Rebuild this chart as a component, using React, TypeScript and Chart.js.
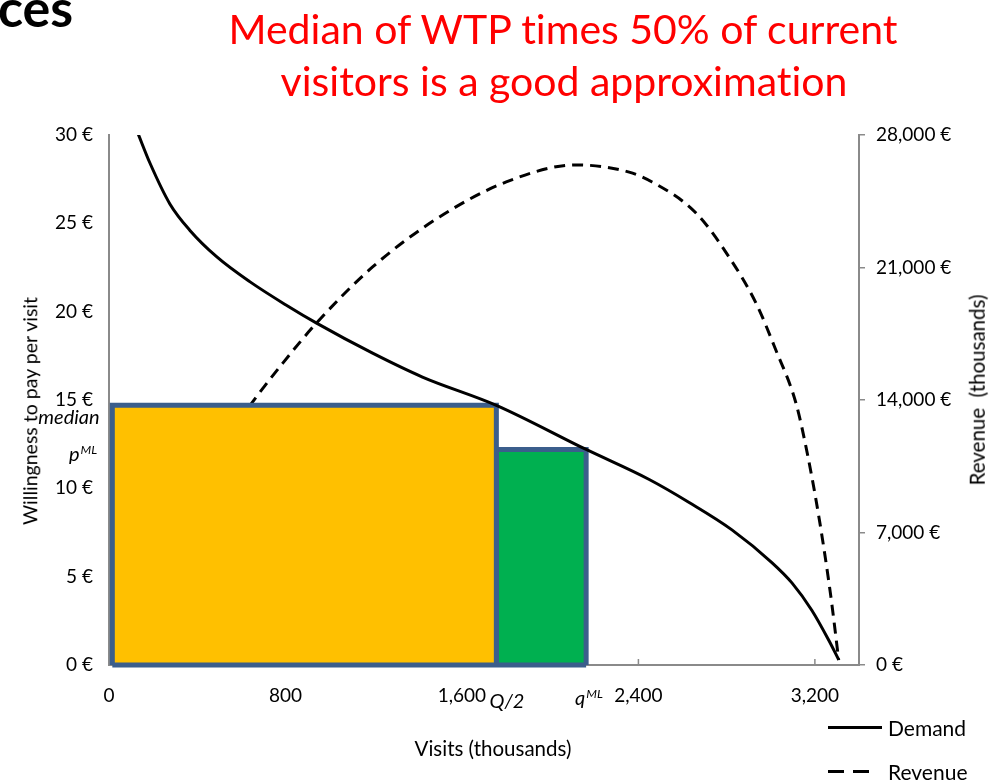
import React, { useEffect, useRef } from 'react';
import { Chart, registerables } from 'chart.js';

Chart.register(...registerables);

// ---- data ----
const demandX = [131, 186, 276, 367, 489, 638, 806, 941, 1195, 1421, 1756, 2163, 2449, 2630, 2824, 3005, 3096, 3186, 3263, 3308];
const demandY = [30.1, 28.4, 26.1, 24.6, 23.1, 21.7, 20.35, 19.35, 17.65, 16.3, 14.7, 12.2, 10.5, 9.2, 7.65, 5.8, 4.65, 3.1, 1.4, 0.3];

const revenueX = [131, 276, 489, 647, 788, 941, 1195, 1498, 1801, 2118, 2358, 2462, 2661, 2811, 2933, 3023, 3114, 3168, 3222, 3272, 3308];
const revenueY = [3900, 7200, 11300, 13840, 15950, 18070, 21030, 23670, 25520, 26420, 26040, 25520, 23880, 21550, 19120, 16640, 13840, 11040, 7550, 3650, 260];

// rectangles: edges along visits axis, heights in €/visit
const boxEdges = [15, 1756, 2163];
const boxHeights = [14.7, 12.2];
const boxColors = ['#FFC000', '#00B050'];

const xTicks = [0, 800, 1600, 2400, 3200];
const leftTicks = [0, 5, 10, 15, 20, 25, 30];
const rightTicks = [0, 7000, 14000, 21000, 28000];

const FONT = 'Lato, "Open Sans", sans-serif';
const AXIS_GRAY = '#8a8a8a';
const BOX_BORDER = '#3B5E8C';

const innerXTicks = {
  id: 'innerXTicks',
  beforeDatasetsDraw(chart: any) {
    const { ctx, chartArea, scales } = chart;
    ctx.save();
    ctx.strokeStyle = AXIS_GRAY;
    ctx.lineWidth = 1.5;
    for (const v of xTicks) {
      if (v === 0) continue;
      const px = scales.x.getPixelForValue(v);
      ctx.beginPath();
      ctx.moveTo(px, chartArea.bottom);
      ctx.lineTo(px, chartArea.bottom - 6);
      ctx.stroke();
    }
    ctx.restore();
  },
};

function ChartCanvas() {
  const ref = useRef<HTMLCanvasElement | null>(null);
  useEffect(() => {
    if (!ref.current) return;
    const boxSets = boxHeights.map((h, i) => ({
      label: 'box' + i,
      data: [
        { x: boxEdges[i], y: 0 },
        { x: boxEdges[i], y: h },
        { x: boxEdges[i + 1], y: h },
        { x: boxEdges[i + 1], y: 0 },
      ],
      backgroundColor: boxColors[i],
      borderColor: BOX_BORDER,
      borderWidth: 5,
      borderJoinStyle: 'miter' as const,
      fill: 'origin',
      pointRadius: 0,
      tension: 0,
      yAxisID: 'y',
      order: 1,
      clip: false as any,
    }));
    const chart = new Chart(ref.current, {
      type: 'line',
      data: {
        datasets: [
          {
            label: 'Demand',
            data: demandX.map((x, i) => ({ x, y: demandY[i] })),
            borderColor: '#000',
            borderWidth: 3,
            pointRadius: 0,
            fill: false,
            cubicInterpolationMode: 'monotone',
            yAxisID: 'y',
            order: 0,
          },
          {
            label: 'bottom',
            data: [
              { x: boxEdges[0], y: 0 },
              { x: boxEdges[boxEdges.length - 1], y: 0 },
            ],
            borderColor: BOX_BORDER,
            borderWidth: 5,
            pointRadius: 0,
            fill: false,
            yAxisID: 'y',
            order: 1,
            clip: false as any,
          },
          ...boxSets,
          {
            label: 'Revenue',
            data: revenueX.map((x, i) => ({ x, y: revenueY[i] })),
            borderColor: '#000',
            borderWidth: 3,
            borderDash: [11, 7],
            pointRadius: 0,
            fill: false,
            cubicInterpolationMode: 'monotone',
            yAxisID: 'y2',
            order: 2,
          },
        ] as any,
      },
      options: {
        responsive: false,
        animation: false,
        layout: { padding: { top: 135, left: 0, right: 0, bottom: 0 } },
        plugins: { legend: { display: false }, tooltip: { enabled: false } },
        scales: {
          x: {
            type: 'linear',
            min: 0,
            max: 3400,
            afterBuildTicks: (s: any) => {
              s.ticks = xTicks.map((v) => ({ value: v }));
            },
            afterFit: (s: any) => {
              s.height = 115;
            },
            grid: { display: false, drawTicks: false },
            border: { display: true, color: AXIS_GRAY, width: 2 },
            ticks: {
              color: '#000',
              font: { family: FONT, size: 19 },
              padding: 19,
              maxRotation: 0,
              callback: (v: any) => Number(v).toLocaleString('en-US'),
            },
          },
          y: {
            type: 'linear',
            position: 'left',
            min: 0,
            max: 30,
            afterBuildTicks: (s: any) => {
              s.ticks = leftTicks.map((v) => ({ value: v }));
            },
            afterFit: (s: any) => {
              s.width = 109;
            },
            grid: { display: false, drawTicks: false },
            border: { display: true, color: AXIS_GRAY, width: 2 },
            ticks: {
              color: '#000',
              font: { family: FONT, size: 19 },
              padding: 16,
              callback: (v: any) => v + ' €',
            },
          },
          y2: {
            type: 'linear',
            position: 'right',
            min: 0,
            max: 28000,
            afterBuildTicks: (s: any) => {
              s.ticks = rightTicks.map((v) => ({ value: v }));
            },
            afterFit: (s: any) => {
              s.width = 135;
            },
            grid: { display: true, drawOnChartArea: false, drawTicks: true, tickLength: 6, color: AXIS_GRAY, lineWidth: 1.5 },
            border: { display: true, color: AXIS_GRAY, width: 2 },
            ticks: {
              color: '#000',
              font: { family: FONT, size: 19 },
              padding: 11,
              callback: (v: any) => Number(v).toLocaleString('en-US') + ' €',
            },
          },
        },
      } as any,
      plugins: [innerXTicks],
    });
    return () => chart.destroy();
  }, []);
  return <canvas ref={ref} width={994} height={780} style={{ position: 'absolute', left: 0, top: 0, width: 994, height: 780 }} />;
}

function Label({ x, y, size, children, style, rotate }: any) {
  return (
    <div
      style={{
        position: 'absolute',
        left: x,
        top: y,
        fontFamily: FONT,
        fontSize: size,
        lineHeight: 1,
        whiteSpace: 'nowrap',
        color: '#000',
        fontVariantLigatures: 'none',
        transform: 'translate(-50%,-50%)' + (rotate ? ' rotate(-90deg)' : ''),
        ...style,
      }}
    >
      {children}
    </div>
  );
}

const sup = { fontSize: '62%', position: 'relative' as const, top: '-0.6em', marginLeft: 1 };

export default function App() {
  return (
    <div style={{ position: 'absolute', left: 0, top: 0, width: 994, height: 780, overflow: 'hidden', background: '#fff' }}>
      <ChartCanvas />
      <div style={{ position: 'absolute', left: -2, top: -19, fontFamily: FONT, fontWeight: 700, fontSize: 52, lineHeight: 1, color: '#000' }}>ces</div>
      <Label x={563} y={28} size={41} style={{ color: '#FF0000' }}>Median of WTP times 50% of current</Label>
      <Label x={564} y={80} size={41} style={{ color: '#FF0000' }}>visitors is a good approximation</Label>
      <Label x={30} y={411} size={19.5} rotate>Willingness to pay per visit</Label>
      <Label x={977} y={390} size={20.5} rotate>Revenue&nbsp;&nbsp;(thousands)</Label>
      <Label x={493} y={748} size={20.5}>Visits (thousands)</Label>
      <Label x={69} y={416} size={20} style={{ fontStyle: 'italic' }}>median</Label>
      <Label x={83} y={453} size={20} style={{ fontStyle: 'italic' }}>p<span style={sup}>ML</span></Label>
      <Label x={507} y={700} size={20} style={{ fontStyle: 'italic' }}>Q/2</Label>
      <Label x={589} y={697} size={20} style={{ fontStyle: 'italic' }}>q<span style={sup}>ML</span></Label>
      {/* legend */}
      <div style={{ position: 'absolute', left: 828, top: 726, width: 54, height: 3, background: '#000' }} />
      <div style={{ position: 'absolute', left: 888, top: 727, transform: 'translateY(-50%)', fontFamily: FONT, fontSize: 21, lineHeight: 1 }}>Demand</div>
      <div style={{ position: 'absolute', left: 828, top: 770, width: 16, height: 3, background: '#000' }} />
      <div style={{ position: 'absolute', left: 853, top: 770, width: 16, height: 3, background: '#000' }} />
      <div style={{ position: 'absolute', left: 888, top: 771, transform: 'translateY(-50%)', fontFamily: FONT, fontSize: 21, lineHeight: 1 }}>Revenue</div>
    </div>
  );
}
